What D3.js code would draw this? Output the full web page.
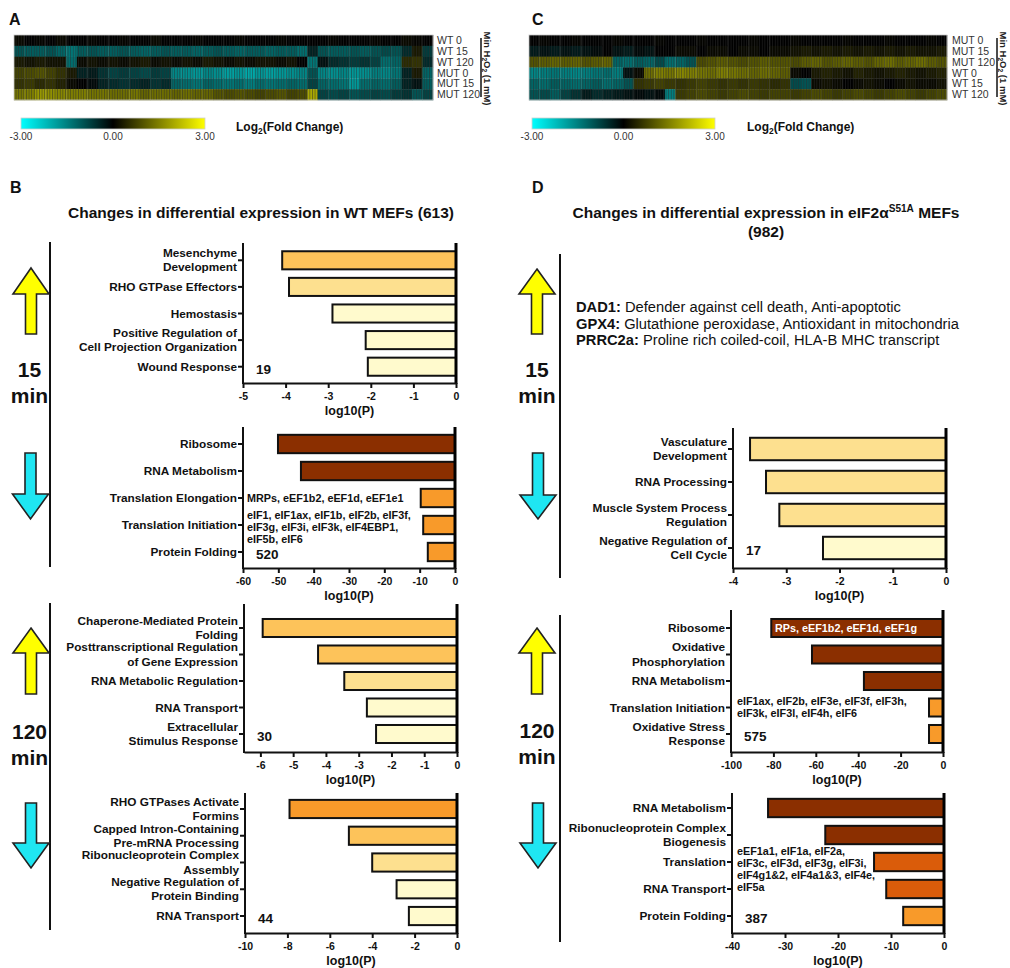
<!DOCTYPE html>
<html>
<head>
<meta charset="utf-8">
<script src="https://cdn.jsdelivr.net/npm/d3@7.9.0/dist/d3.min.js"></script>
<style>
  body { margin: 0; background: #fff; }
  svg { display: block; }
</style>
</head>
<body>
<svg id="fig" width="1010" height="968"></svg>
<script>
// ---- heatmap data (log2 fold change in 40 column blocks) ----
const heatRowsA = ['WT 0', 'WT 15', 'WT 120', 'MUT 0', 'MUT 15', 'MUT 120'];
const heatA = [
  [0.1,0,0.05,0,0.1,0,0,0.05,0,0,0.05,0,0,0.1,0,0,0,0.05,0,0,0,0.05,0,0,0,0.05,0,0,0,0,0.05,0,0,0,0.05,0,0,0.1,0.05,0],
  [-1.0,-1.1,-1.1,-1.0,-1.2,-1.4,-1.1,-1.0,-1.1,-1.1,-1.0,-1.1,-1.2,-1.1,-1.0,-1.1,-1.1,-1.2,-1.1,-1.0,-1.1,-1.2,-1.1,-1.1,-1.2,-1.1,-1.1,-1.3,-0.4,-1.0,-1.1,-1.1,-1.0,-1.1,-1.0,-0.9,-1.0,-0.5,0.3,-0.7],
  [0.3,0.2,0.3,0.2,0.2,-1.3,0.1,0.2,0.1,0.2,0.1,0.2,0.3,0.1,0.2,0.1,0.2,0.1,0.3,0.2,0.1,0.2,0.1,0.2,0.2,0.1,0.2,0.0,-1.4,-0.2,-0.5,-0.6,-0.7,-0.6,-0.8,-1.3,-1.2,0.5,0.6,-0.5],
  [0.8,0.9,1.0,0.8,0.6,0.3,-0.4,-0.3,-0.6,-0.8,-0.7,-0.8,-0.9,-0.7,-0.8,-1.6,-1.7,-1.8,-1.6,-1.7,-1.9,-1.8,-2.0,-1.8,-1.9,-1.8,-1.7,-1.6,-1.0,-1.6,-1.7,-1.6,-1.8,-1.7,-1.5,-1.6,-1.4,-0.4,0.3,-1.2],
  [0.6,0.7,0.5,0.6,0.4,0.1,0.0,-0.1,-0.4,-0.5,-0.6,-0.5,-0.4,-0.6,-0.5,-1.2,-1.3,-1.4,-1.2,-1.3,-1.4,-1.3,-1.5,-1.3,-1.4,-1.3,-1.2,-1.3,-0.8,-1.2,-1.3,-1.4,-1.8,-1.3,-1.2,-1.3,-1.1,-0.4,-0.2,-1.1],
  [1.4,1.5,1.8,1.7,1.6,1.5,1.5,1.4,1.4,1.3,1.3,1.4,1.2,1.3,1.3,1.2,1.3,1.2,1.2,1.0,0.9,1.0,0.9,0.8,0.9,1.0,0.8,0.9,2.0,-0.8,-0.9,-0.8,-1.0,-0.9,-0.8,-0.9,-0.7,-0.6,-1.0,-0.8]
];
const heatRowsC = ['MUT 0', 'MUT 15', 'MUT 120', 'WT 0', 'WT 15', 'WT 120'];
const heatC = [
  [0,0.05,0,0,0.05,0,0,0,0.05,0,0,0,0.05,0,0,0,0.05,0,0,0,0,0.05,0,0,0,0.05,0,0,0,0,0.05,0,0,0,0.05,0,0,0,0.05,0],
  [-0.3,-0.2,-0.3,-0.2,-0.3,-0.2,-0.1,0,-0.2,-0.3,-0.1,-0.2,0,0,0.1,0.1,0,0.1,0.1,0,0.1,0.1,0,0.1,0.1,0.2,0.3,0.2,0.3,0.2,0.3,0.2,0.3,0.2,0.3,0.2,0.3,0.2,0.2,0.3],
  [1.0,1.1,1.2,1.1,1.2,1.0,1.1,1.2,-1.2,-1.3,-1.1,-1.2,-0.9,-1.3,-1.2,-1.0,0.9,1.0,1.1,1.0,0.9,1.0,1.1,1.0,1.0,0.9,1.1,1.2,1.0,1.1,1.2,1.1,1.0,1.2,1.3,1.1,1.2,1.3,1.1,1.0],
  [-1.6,-1.5,-1.4,-1.5,-1.6,-1.5,-1.4,-1.3,-1.5,-0.2,0.1,1.3,1.5,1.4,1.6,1.5,1.4,1.3,1.5,1.4,1.3,1.2,1.3,1.2,1.1,0.1,0.0,0.3,0.4,0.3,0.2,0.4,0.3,0.2,0.3,0.4,0.3,0.2,0.3,0.4],
  [-1.2,-1.3,-1.1,-1.2,-1.3,-1.2,-1.1,-1.3,-1.2,-1.0,0.6,0.7,0.8,0.7,0.6,0.7,0.8,0.7,0.6,0.7,0.6,0.7,0.6,0.5,0.6,-0.9,-1.0,0.1,0.2,0.1,0.0,0.1,0.2,0.1,0.0,0.1,0.2,0.1,0.1,0.2],
  [-1.0,-0.9,-1.1,-0.8,-0.6,-0.3,-0.5,-0.4,-0.3,-0.2,-0.1,-0.2,-0.1,-1.5,0.7,0.8,0.9,0.8,0.7,0.8,0.9,0.8,0.7,0.8,0.8,0.7,0.8,0.9,0.8,0.7,0.8,0.9,0.8,0.7,0.8,0.9,0.8,0.7,0.8,0.9]
];
const colorbarTicks = [-3, 0, 3];

// ---- enrichment bars: log10(P) ----
const wt15UpTerms = ['Mesenchyme\nDevelopment', 'RHO GTPase Effectors', 'Hemostasis', 'Positive Regulation of\nCell Projection Organization', 'Wound Response'];
const wt15UpValues = [-4.08, -3.92, -2.9, -2.12, -2.07];
const wt15DownTerms = ['Ribosome', 'RNA Metabolism', 'Translation Elongation', 'Translation Initiation', 'Protein Folding'];
const wt15DownValues = [-50.1, -43.6, -9.7, -9.0, -7.7];
const wt120UpTerms = ['Chaperone-Mediated Protein\nFolding', 'Posttranscriptional Regulation\nof Gene Expression', 'RNA Metabolic Regulation', 'RNA Transport', 'Extracellular\nStimulus Response'];
const wt120UpValues = [-5.93, -4.24, -3.44, -2.75, -2.47];
const wt120DownTerms = ['RHO GTPases Activate\nFormins', 'Capped Intron-Containing\nPre-mRNA Processing', 'Ribonucleoprotein Complex\nAssembly', 'Negative Regulation of\nProtein Binding', 'RNA Transport'];
const wt120DownValues = [-7.9, -5.1, -4.0, -2.85, -2.27];

const mut15DownTerms = ['Vasculature\nDevelopment', 'RNA Processing', 'Muscle System Process\nRegulation', 'Negative Regulation  of\nCell Cycle'];
const mut15DownValues = [-3.68, -3.38, -3.13, -2.31];
const mut120UpTerms = ['Ribosome', 'Oxidative\nPhosphorylation', 'RNA Metabolism', 'Translation Initiation', 'Oxidative Stress\nResponse'];
const mut120UpValues = [-81, -61.8, -37.3, -6.6, -6.6];
const mut120DownTerms = ['RNA Metabolism', 'Ribonucleoprotein Complex\nBiogenesis', 'Translation', 'RNA Transport', 'Protein Folding'];
const mut120DownValues = [-33.2, -22.4, -13.2, -10.9, -7.7];

const geneCounts = { wt15Up: '19', wt15Down: '520', wt120Up: '30', wt120Down: '44', mut15Down: '17', mut120Up: '575', mut120Down: '387' };

const wtElongGenes = ['MRPs, eEF1b2, eEF1d, eEF1e1'];
const wtInitGenes = ['eIF1, eIF1ax, eIF1b, eIF2b, eIF3f,', 'eIF3g, eIF3i, eIF3k, eIF4EBP1,', 'eIF5b, eIF6'];
const mutRiboGenes = ['RPs, eEF1b2, eEF1d, eEF1g'];
const mutInitGenes = ['eIF1ax, eIF2b, eIF3e, eIF3f, eIF3h,', 'eIF3k, eIF3l, eIF4h, eIF6'];
const mutTransGenes = ['eEF1a1, eIF1a, eIF2a,', 'eIF3c, eIF3d, eIF3g, eIF3i,', 'eIF4g1&2, eIF4a1&3, eIF4e,', 'eIF5a'];

const mut15UpGenes = [
  ['DAD1:', ' Defender against cell death, Anti-apoptotic'],
  ['GPX4:', ' Glutathione peroxidase, Antioxidant in mitochondria'],
  ['PRRC2a:', ' Proline rich coiled-coil, HLA-B MHC transcript']
];

const FONT = "'Liberation Sans', Arial, Helvetica, sans-serif";
const svg = d3.select('#fig').style('font-family', FONT);
svg.append('rect').attr('width', 1010).attr('height', 968).attr('fill', '#fff');

const heatColor = d3.scaleLinear().domain([-3, 0, 3]).range(['#00ffff', '#000000', '#ffff00']);
const barColor = d3.scaleThreshold()
  .domain([3, 4.05, 6.3, 10.5, 20])
  .range(['#fffacd', '#fde08f', '#fdc35a', '#f89a2a', '#da5c0a', '#8b2f00']);

const defs = svg.append('defs');
const stripes = defs.append('pattern')
  .attr('id', 'stripes').attr('patternUnits', 'userSpaceOnUse')
  .attr('width', 2.6).attr('height', 10);
stripes.append('rect').attr('x', 0).attr('width', 0.9).attr('height', 10)
  .attr('fill', '#2e2e2e').attr('opacity', 0.55);

const grad = defs.append('linearGradient').attr('id', 'cbar');
grad.selectAll('stop')
  .data(colorbarTicks)
  .join('stop')
  .attr('offset', (d, i) => i / (colorbarTicks.length - 1))
  .attr('stop-color', d => heatColor(d));

// small helper for text with sub/superscripts: parts = [[text, kind], ...]
function richText(g, parts, size) {
  parts.forEach(([t, kind]) => {
    const ts = g.append('tspan').text(t);
    if (kind === 'sub') ts.attr('font-size', size * 0.7).attr('dy', size * 0.25);
    if (kind === 'sup') ts.attr('font-size', size * 0.65).attr('dy', -size * 0.4);
    if (kind === 'back-sub') ts.attr('dy', -size * 0.25);
    if (kind === 'back-sup') ts.attr('dy', size * 0.4);
  });
}

function heatmap(rows, values, left, right, top, bottom, labelX, bracketX) {
  const g = svg.append('g');
  const nCols = values[0].length;
  const x = d3.scaleBand().domain(d3.range(nCols)).range([left, right]);
  const y = d3.scaleBand().domain(rows).range([top, bottom]);

  rows.forEach((r, ri) => {
    g.selectAll(null)
      .data(values[ri])
      .join('rect')
      .attr('x', (d, i) => x(i))
      .attr('y', y(r))
      .attr('width', x.bandwidth() + 0.3)
      .attr('height', y.bandwidth() + 0.3)
      .attr('fill', d => heatColor(d));
  });
  g.append('rect')
    .attr('x', left).attr('y', top)
    .attr('width', right - left).attr('height', bottom - top)
    .attr('fill', 'url(#stripes)');
  g.append('rect')
    .attr('x', left).attr('y', top)
    .attr('width', right - left).attr('height', bottom - top)
    .attr('fill', 'none').attr('stroke', '#c8c8c8').attr('stroke-width', 0.8);

  g.selectAll('text.row')
    .data(rows)
    .join('text')
    .attr('class', 'row')
    .attr('x', labelX)
    .attr('y', d => y(d) + y.bandwidth() / 2)
    .attr('dy', '0.35em')
    .attr('font-size', 10.5)
    .attr('fill', '#333')
    .text(d => d);

  g.append('line')
    .attr('x1', bracketX).attr('x2', bracketX)
    .attr('y1', top + 3).attr('y2', bottom - 3)
    .attr('stroke', '#111').attr('stroke-width', 1.5);

  const rot = g.append('text')
    .attr('transform', `translate(${bracketX + 3},${(top + bottom) / 2 + 1}) rotate(90)`)
    .attr('text-anchor', 'middle')
    .attr('font-size', 9.5)
    .attr('font-weight', 'bold')
    .attr('fill', '#222');
  richText(rot, [['Min H', null], ['2', 'sub'], ['O', 'back-sub'], ['2', 'sub'], [' (1 mM)', 'back-sub']], 9.5);
}

function colorbar(left, right, top, labelX) {
  const g = svg.append('g');
  const h = 11;
  const x = d3.scaleLinear().domain(d3.extent(colorbarTicks)).range([left, right]);
  g.append('rect')
    .attr('x', left).attr('y', top).attr('width', right - left).attr('height', h)
    .attr('fill', 'url(#cbar)').attr('stroke', '#d0d0d0').attr('stroke-width', 0.8);
  g.selectAll('text.tick')
    .data(colorbarTicks)
    .join('text')
    .attr('x', d => x(d))
    .attr('y', top + h + 11)
    .attr('text-anchor', 'middle')
    .attr('font-size', 10)
    .attr('fill', '#333')
    .text(d => d.toFixed(2));
  const lab = g.append('text')
    .attr('x', labelX).attr('y', top + 13)
    .attr('font-size', 12).attr('font-weight', 'bold').attr('fill', '#111');
  richText(lab, [['Log', null], ['2', 'sub'], ['(Fold Change)', 'back-sub']], 12);
}

function arrow(cx, top, bottom, headY, dir, fill) {
  // up: tip at top, head base at headY; down: tip at bottom
  const hw = 18, sw = 5.5;
  let pts;
  if (dir === 'up') {
    pts = [[cx, top], [cx + hw, headY], [cx + sw, headY], [cx + sw, bottom], [cx - sw, bottom], [cx - sw, headY], [cx - hw, headY]];
  } else {
    pts = [[cx - sw, top], [cx + sw, top], [cx + sw, headY], [cx + hw, headY], [cx, bottom], [cx - hw, headY], [cx - sw, headY]];
  }
  svg.append('path')
    .attr('d', d3.line()(pts) + 'Z')
    .attr('fill', fill)
    .attr('stroke', '#222')
    .attr('stroke-width', 1.6)
    .attr('stroke-linejoin', 'miter');
}

function timeLabel(cx, y, num) {
  const g = svg.append('g').attr('font-weight', 'bold').attr('font-size', 21).attr('fill', '#111').attr('text-anchor', 'middle');
  g.append('text').attr('x', cx).attr('y', y).text(num);
  g.append('text').attr('x', cx).attr('y', y + 26).text('min');
}

function barPanel(p) {
  const g = svg.append('g');
  const x = d3.scaleLinear().domain(p.domain).range([p.x0, p.x1]);
  const y = d3.scaleBand().domain(p.terms).range(p.band).paddingInner(0.32).paddingOuter(0.16);

  g.selectAll('rect.bar')
    .data(p.terms.map((t, i) => ({ term: t, value: p.values[i] })))
    .join('rect')
    .attr('class', 'bar')
    .attr('x', d => x(d.value))
    .attr('y', d => y(d.term))
    .attr('width', d => x(0) - x(d.value))
    .attr('height', y.bandwidth())
    .attr('fill', d => barColor(-d.value))
    .attr('stroke', '#111')
    .attr('stroke-width', 2);

  // left axis line and category ticks
  g.append('line')
    .attr('x1', p.x0).attr('x2', p.x0).attr('y1', p.top).attr('y2', p.bottom + 1)
    .attr('stroke', '#111').attr('stroke-width', 2);
  g.selectAll('line.ytick')
    .data(p.terms)
    .join('line')
    .attr('x1', p.x0 - 5).attr('x2', p.x0)
    .attr('y1', d => y(d) + y.bandwidth() / 2).attr('y2', d => y(d) + y.bandwidth() / 2)
    .attr('stroke', '#111').attr('stroke-width', 2);
  g.selectAll('text.ylab')
    .data(p.terms)
    .join('text')
    .attr('text-anchor', 'end')
    .attr('font-size', 11.8)
    .attr('font-weight', 'bold')
    .attr('fill', '#111')
    .each(function (d) {
      const lines = d.split('\n');
      const cy = y(d) + y.bandwidth() / 2;
      d3.select(this).selectAll('tspan')
        .data(lines)
        .join('tspan')
        .attr('x', p.x0 - 6)
        .attr('y', (l, i) => cy + (i - (lines.length - 1) / 2) * 14.2 + 4)
        .text(l => l);
    });

  // zero line
  g.append('line')
    .attr('x1', x(0)).attr('x2', x(0)).attr('y1', p.top).attr('y2', p.bottom + 1)
    .attr('stroke', '#000').attr('stroke-width', 3);

  // bottom axis
  const ax = g.append('g')
    .attr('transform', `translate(0,${p.bottom})`)
    .call(d3.axisBottom(x)
      .tickValues(d3.range(p.domain[1], p.domain[0] - 1e-9, -p.step))
      .tickFormat(d => String(d))
      .tickSize(5).tickPadding(5).tickSizeOuter(0));
  ax.select('.domain').attr('stroke', '#111').attr('stroke-width', 2);
  ax.selectAll('.tick line').attr('stroke', '#111').attr('stroke-width', 2);
  ax.selectAll('.tick text').attr('font-size', 10.5).attr('font-weight', 'bold').attr('fill', '#111').attr('font-family', FONT);
  g.append('text')
    .attr('x', (p.x0 + p.x1) / 2).attr('y', p.bottom + 32)
    .attr('text-anchor', 'middle').attr('font-size', 12.5).attr('font-weight', 'bold').attr('fill', '#111')
    .text('log10(P)');

  // gene count
  g.append('text')
    .attr('x', p.x0 + 13).attr('y', y(p.terms[p.terms.length - 1]) + y.bandwidth() / 2 + 7)
    .attr('font-size', 13.5).attr('font-weight', 'bold').attr('fill', '#111')
    .text(p.count);

  // gene notes
  (p.notes || []).forEach(n => {
    const cy = y(n.term) + y.bandwidth() / 2;
    g.append('text')
      .attr('font-size', 10.8).attr('font-weight', 'bold').attr('fill', n.color || '#111')
      .selectAll('tspan')
      .data(n.lines)
      .join('tspan')
      .attr('x', p.x0 + n.dx)
      .attr('y', (l, i) => cy + n.dy + i * 12)
      .text(l => l);
  });
}

// ---- panel letters ----
const letters = [['A', 9, 25], ['C', 532, 25], ['B', 10, 193], ['D', 532, 193]];
svg.selectAll('text.letter')
  .data(letters)
  .join('text')
  .attr('x', d => d[1]).attr('y', d => d[2])
  .attr('font-size', 16).attr('font-weight', 'bold').attr('fill', '#111')
  .text(d => d[0]);

// ---- heatmaps ----
heatmap(heatRowsA, heatA, 14, 433, 35, 100, 437, 481);
heatmap(heatRowsC, heatC, 529, 947, 35, 100, 952, 997);
colorbar(21, 205, 118, 236);
colorbar(532, 715, 118, 747);

// ---- titles ----
svg.append('text')
  .attr('x', 261).attr('y', 218).attr('text-anchor', 'middle')
  .attr('font-size', 15.5).attr('font-weight', 'bold').attr('fill', '#111')
  .text('Changes in differential expression in WT MEFs (613)');
const tD = svg.append('text')
  .attr('x', 766).attr('y', 218).attr('text-anchor', 'middle')
  .attr('font-size', 15.5).attr('font-weight', 'bold').attr('fill', '#111');
richText(tD, [['Changes in differential expression in eIF2α', null], ['S51A', 'sup'], [' MEFs', 'back-sup']], 15.5);
svg.append('text')
  .attr('x', 766).attr('y', 237).attr('text-anchor', 'middle')
  .attr('font-size', 15.5).attr('font-weight', 'bold').attr('fill', '#111')
  .text('(982)');

// ---- time brackets ----
[[50, 242, 567], [50, 603, 930], [560, 254, 578], [560, 615, 942]].forEach(([bx, y1, y2]) => {
  svg.append('line').attr('x1', bx).attr('x2', bx).attr('y1', y1).attr('y2', y2)
    .attr('stroke', '#111').attr('stroke-width', 2);
});
const UP = '#ffff00', DOWN = '#1fe6f2';
arrow(31, 268, 334, 294, 'up', UP);
arrow(30.5, 453, 519, 494, 'down', DOWN);
arrow(31, 628, 694, 653, 'up', UP);
arrow(31, 803, 868, 843, 'down', DOWN);
arrow(537, 269, 334, 294, 'up', UP);
arrow(538, 453, 519, 495, 'down', DOWN);
arrow(537, 628, 694, 653, 'up', UP);
arrow(538, 803, 868, 843, 'down', DOWN);
timeLabel(29.5, 377, '15');
timeLabel(29.5, 739, '120');
timeLabel(537, 377, '15');
timeLabel(537, 738, '120');

// ---- bar panels ----
barPanel({ terms: wt15UpTerms, values: wt15UpValues, domain: [-5, 0], step: 1, x0: 243, x1: 456, top: 243, bottom: 383, band: [247, 380], count: geneCounts.wt15Up });
barPanel({ terms: wt15DownTerms, values: wt15DownValues, domain: [-60, 0], step: 10, x0: 243, x1: 455, top: 427, bottom: 568, band: [430.5, 565.5], count: geneCounts.wt15Down,
  notes: [
    { term: 'Translation Elongation', lines: wtElongGenes, dx: 4, dy: 4 },
    { term: 'Translation Initiation', lines: wtInitGenes, dx: 4, dy: -6 }
  ] });
barPanel({ terms: wt120UpTerms, values: wt120UpValues, domain: [-6.5, 0], step: 1, x0: 244, x1: 457, top: 604, bottom: 752, band: [614.75, 747.25], count: geneCounts.wt120Up });
barPanel({ terms: wt120DownTerms, values: wt120DownValues, domain: [-10, 0], step: 2, x0: 245, x1: 457, top: 793, bottom: 933, band: [795.6, 929.4], count: geneCounts.wt120Down });

barPanel({ terms: mut15DownTerms, values: mut15DownValues, domain: [-4, 0], step: 1, x0: 733, x1: 946, top: 428, bottom: 568, band: [432.5, 564.5], count: geneCounts.mut15Down });
barPanel({ terms: mut120UpTerms, values: mut120UpValues, domain: [-100, 0], step: 20, x0: 731, x1: 943, top: 610, bottom: 752, band: [614.75, 747.25], count: geneCounts.mut120Up,
  notes: [
    { term: 'Ribosome', lines: mutRiboGenes, dx: 44, dy: 4, color: '#fff' },
    { term: 'Translation Initiation', lines: mutInitGenes, dx: 6, dy: -3 }
  ] });
barPanel({ terms: mut120DownTerms, values: mut120DownValues, domain: [-40, 0], step: 10, x0: 732, x1: 944, top: 793, bottom: 933, band: [794.5, 929.5], count: geneCounts.mut120Down,
  notes: [
    { term: 'Translation', lines: mutTransGenes, dx: 5, dy: -7 }
  ] });

// ---- mutant 15 min up: individual genes ----
const geneText = svg.append('g').attr('font-size', 14.7).attr('fill', '#111');
mut15UpGenes.forEach((row, i) => {
  const t = geneText.append('text').attr('x', 576).attr('y', 312 + i * 16.5);
  t.append('tspan').attr('font-weight', 'bold').text(row[0]);
  t.append('tspan').text(row[1]);
});
</script>
</body>
</html>
